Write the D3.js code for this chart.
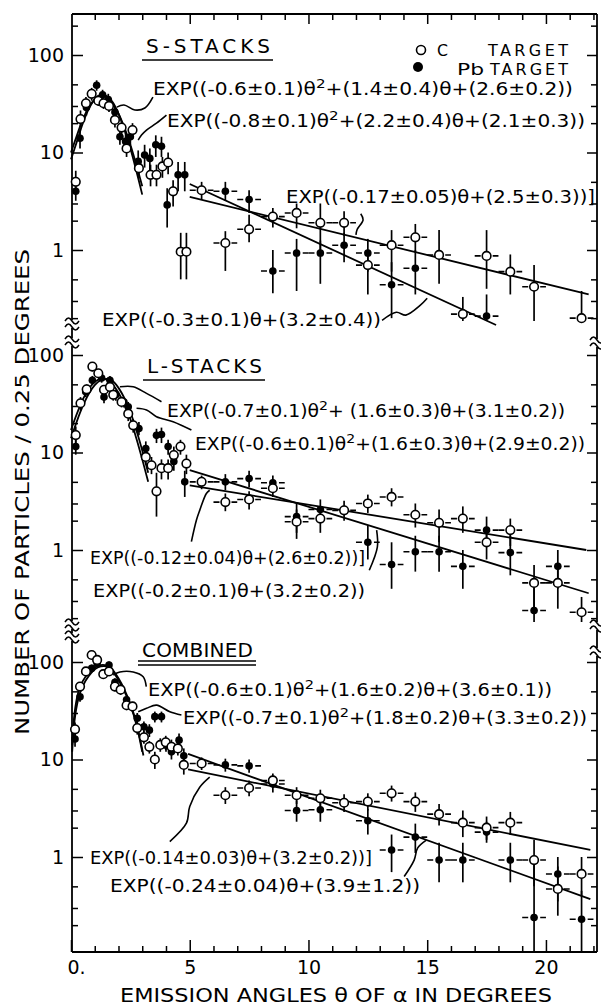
<!DOCTYPE html>
<html>
<head>
<meta charset="utf-8">
<script src="https://cdn.jsdelivr.net/npm/d3@7"></script>
<style>
  body { margin: 0; background: #fff; }
  svg { display: block; font-family: "DejaVu Sans", sans-serif; }
</style>
</head>
<body>
<svg id="chart" width="601" height="1007"></svg>
<script>
// ---- data: [theta, value, errLow, errHigh] ----
// S-stacks
const sLowC = [[0.2,5.0,4.0,6.5],[0.4,22,18,27],[0.63,32,27,37],[0.87,40,34,46],[1.15,34,30,39],[1.37,32,28,36],
  [1.6,30,26,34],[1.85,21.6,18,25],[2.13,18,15,21],[2.34,11,9,13.5],[2.59,17,14,20],[2.86,6.9,5.5,8.5],
  [3.35,5.9,4.5,7.5],[3.6,5.9,4.5,7.5],[3.85,7.2,5.5,9],[4.09,7.9,6,10],[4.3,4.0,2.8,5.2],[4.62,0.96,0.5,1.5],[4.86,0.96,0.5,1.5]];
const sLowPb = [[0.2,4.0,3.2,5.2],[0.38,14,11,17],[0.65,29,24,34],[1.08,49,43,55],[1.33,39,34,44],[1.57,35,30,40],
  [1.85,26,22,30],[2.06,14.5,12,17.5],[2.3,13,11,16],[2.5,14.5,12,17.5],[2.83,8.1,6,10.5],[3.1,9.4,7,12],
  [3.32,8.7,6.5,11],[3.57,12,9,15],[3.81,11.6,9,14.5],[4.05,2.9,1.7,4.3],[4.51,5.9,4,8],[4.79,5.9,4,8]];
const sTailC = [[5.5,4.1,3.3,5.0],[6.5,1.18,0.61,1.56],[7.5,1.63,1.2,2.3],[8.5,2.2,1.7,2.7],[9.5,2.4,1.67,3.0],
  [10.5,1.9,0.95,3.0],[11.5,1.9,1.4,2.5],[12.5,0.7,0.35,1.0],[13.5,1.12,0.6,1.6],[14.5,1.35,0.95,1.85],
  [15.5,0.89,0.45,1.6],[16.5,0.22,0.12,0.33],[17.5,0.87,0.4,1.6],[18.5,0.6,0.35,0.9],[19.5,0.42,0.18,0.7],[21.5,0.2,0.1,0.38]];
const sTailPb = [[6.5,4.0,3.2,5.0],[7.5,3.3,2.4,4.1],[8.5,0.61,0.36,1.0],[9.5,0.93,0.38,1.3],[10.5,0.93,0.45,1.25],
  [11.5,1.12,0.75,1.5],[12.5,0.93,0.6,1.3],[13.5,0.44,0.2,0.75],[14.5,0.65,0.35,1.0],[17.5,0.21,0.1,0.35]];
const sFitC = [[0,10],[0.25,15],[0.5,22],[0.75,29],[1,35],[1.25,38],[1.5,37],[1.75,32],[2,25],[2.25,18],[2.5,12],[2.75,7.5],[3,4.5]];
const sFitPb = [[0,8.5],[0.25,13],[0.5,20],[0.75,28],[1,35],[1.25,39],[1.5,38],[1.75,33],[2,25],[2.25,17],[2.5,11],[2.75,6.5],[3,3.7]];
const sLineC = [[5.0,3.5],[21.8,0.35]];
const sLinePb = [[5.0,4.75],[17.9,0.17]];
const sLeaders = [
  [[3.45,37],[3.11,28.6],[2.69,27.3],[2.23,30.7],[1.93,29.2]],
  [[4.02,24.2],[3.6,20],[3.18,17],[2.97,15.1],[2.83,13.4]],
  [[12.2,2.35],[12.3,2.04],[12.05,1.62],[12.0,1.43]],
  [[13.1,0.19],[13.7,0.23],[14.1,0.215],[14.7,0.27],[15.0,0.32]]
];

// L-stacks
const lLowC = [[0.2,15.1,12,18.5],[0.4,32,27,37],[0.66,44.5,39,50],[0.9,76,68,84],[1.15,65,58,72],[1.39,44,39,49],
  [1.64,47,42,52],[1.78,39,34,44],[2.13,33,29,37],[2.41,25,21,29],[2.62,19,16,22],[3.15,9,7.5,10.5],
  [3.39,7.4,6,9],[3.6,4.0,2.2,6.2],[3.81,6.9,5.3,8.5],[4.09,6.9,5.3,8.5],[4.33,9.4,7.5,11.5],[4.61,11.5,9.5,13.5],[4.86,7.7,6,9.5]];
const lLowPb = [[0.2,11.5,9.5,13.5],[0.62,42,37,47],[0.9,55,49,61],[1.29,58,52,64],[1.39,37,32,42],[1.64,55,49,61],
  [1.89,39,34,44],[2.23,33,29,37],[2.41,29.5,26,33],[2.86,17.6,15,20.5],[3.15,11,9,13],[3.6,15,12.5,17.5],
  [3.81,15.3,12.5,18],[4.09,11.5,9.5,13.5],[4.33,8.1,6.5,10],[4.79,5.0,3.5,6.5]];
const lTailC = [[5.5,5.0,4.2,5.8],[6.5,3.1,2.5,3.8],[7.5,3.3,2.6,4.0],[8.5,4.3,3.5,5.2],[9.5,1.95,1.3,2.6],
  [10.5,2.1,1.5,2.7],[11.5,2.55,2.0,3.2],[12.5,3.0,2.4,3.7],[13.5,3.5,2.8,4.3],[14.5,2.3,1.7,3.0],
  [15.5,1.9,1.2,2.6],[16.5,2.1,1.5,2.8],[17.5,1.2,0.8,1.7],[18.5,1.6,1.1,2.1],[19.5,0.46,0.25,0.7],
  [20.5,0.46,0.25,0.7],[21.5,0.23,0.15,0.33]];
const lTailPb = [[6.5,5.0,4.1,6.0],[7.5,5.4,4.4,6.5],[8.5,4.9,4.0,5.8],[9.5,2.2,1.5,3.0],[10.5,2.6,2.0,3.3],
  [12.5,1.2,0.8,1.8],[13.5,0.71,0.4,1.2],[14.5,0.96,0.6,1.4],[15.5,0.96,0.6,1.4],[16.5,0.68,0.4,1.0],
  [17.5,1.6,1.1,2.2],[18.5,0.94,0.55,1.4],[19.5,0.24,0.1,0.45],[20.5,0.68,0.4,1.0]];
const lFitC = [[0,17],[0.25,25],[0.5,35],[0.75,45],[1,53],[1.25,57],[1.5,56],[1.75,50],[2,41],[2.25,31],[2.5,22],[2.75,14],[3,8.5],[3.25,5]];
const lFitPb = [[0,14],[0.25,21],[0.5,30],[0.75,40],[1,49],[1.25,55],[1.5,57],[1.75,54],[2,46],[2.25,36],[2.5,26],[2.75,17],[3,10.5],[3.25,6.2]];
const lLineC = [[5.0,4.6],[21.7,1.0]];
const lLinePb = [[5.0,6.6],[21.8,0.36]];
const lLeaders = [
  [[3.81,33.2],[3.18,40.4],[2.62,47.3],[2.06,47.3]],
  [[5.07,17],[4.3,20.7],[3.6,23.3],[3.18,27.3],[2.76,28.4]],
  [[5.07,1.22],[5.28,2.02],[5.42,2.55],[5.7,3.8],[5.84,4.1]],
  [[12.56,0.62],[12.9,1.07],[12.87,1.6]]
];

// Combined
const cLowC = [[0.17,20.4,17,24],[0.38,56,50,62],[0.63,80,72,88],[0.87,118,108,128],[1.1,105,96,114],[1.36,75,68,82],
  [1.6,80,72,88],[1.85,56,50,62],[2.09,52,46,58],[2.34,36,32,40],[2.59,35,31,39],[2.79,21,18,24],
  [3.07,16.9,14.5,19.5],[3.3,13.5,11.5,15.5],[3.53,10,8,12],[3.76,14.1,12,16.5],[3.99,15,12.5,17.5],
  [4.23,13.5,11,16],[4.5,13,11,15.5],[4.75,8.8,7,10.5]];
const cLowPb = [[0.17,16.2,13.5,19],[0.38,44,39,49],[0.87,86,78,94],[1.1,97,88,106],[1.6,93,85,101],[1.85,62,56,68],
  [2.34,41,37,45],[2.79,26.5,23,30],[3.07,21.7,19,24.5],[3.3,20,17,23],[3.53,27.5,24,31],[3.81,27.5,24,31],
  [4.0,14,12,16.5],[4.23,12,10,14.5],[4.55,15.8,13,18.5],[4.75,10.9,8.5,13]];
const cTailC = [[5.5,9.1,7.8,10.5],[6.5,4.3,3.5,5.2],[7.5,5.1,4.2,6.1],[8.5,6.1,5.1,7.2],[9.5,4.3,3.5,5.2],
  [10.5,4.0,3.2,4.9],[11.5,3.6,2.9,4.4],[12.5,3.7,3.0,4.5],[13.5,4.5,3.7,5.4],[14.5,3.7,2.9,4.6],
  [15.5,2.75,2.1,3.5],[16.5,2.25,1.6,3.0],[17.5,2.0,1.5,2.6],[18.5,2.25,1.7,2.9],[19.5,0.93,0.5,1.5],
  [20.5,0.47,0.25,0.8],[21.5,0.67,0.4,1.0]];
const cTailPb = [[6.5,8.8,7.5,10.2],[7.5,8.6,7.3,10],[8.5,5.6,4.6,6.7],[9.5,3.0,2.3,3.8],[10.5,3.05,2.3,3.9],
  [12.5,2.35,1.7,3.1],[13.5,1.18,0.7,1.7],[14.5,1.6,1.1,2.2],[15.5,0.93,0.55,1.4],[16.5,0.93,0.55,1.4],
  [17.5,1.8,1.4,2.3],[18.5,0.93,0.55,1.4],[19.5,0.24,0.1,1.0],[20.5,0.67,0.35,1.0],[21.5,0.23,0.1,0.45]];
const cFitC = [[0.05,12],[0.15,25],[0.3,41],[0.5,57],[0.75,72],[1,84],[1.25,90],[1.5,90],[1.75,80],[2,65],[2.25,50],[2.5,36],[2.75,23],[3,12]];
const cFitPb = [[0.05,14],[0.15,30],[0.3,48],[0.5,64],[0.75,78],[1,88],[1.25,93],[1.5,92],[1.75,83],[2,68],[2.25,52],[2.5,37],[2.75,24],[3.05,11]];
const cLineC = [[4.93,7.9],[21.87,1.18]];
const cLinePb = [[4.93,11.4],[21.87,0.37]];
const cLeaders = [
  [[3.17,55.8],[3.04,70.6],[2.62,79],[2.06,79],[1.78,73.5]],
  [[4.65,28.6],[4.16,30.9],[3.6,36.1],[3.18,33.5],[2.83,30.9]],
  [[4.16,1.44],[4.86,2.22],[5.0,3.3],[5.42,5.2],[5.84,6.6]],
  [[14.03,0.63],[14.45,0.93],[14.6,1.24],[14.95,1.48]]
];

// tick values and labels
const xMajor = [0, 5, 10, 15, 20];
const xMinor = d3.range(1, 23);
const yMajor = [0.1, 1, 10, 100];
const yMinor = [0.2, 0.3, 0.5, 2, 3, 5, 20, 30, 50, 200];

const formulas = {
  s: [
    [153, 95, 420, "EXP((-0.6±0.1)θ^2+(1.4±0.4)θ+(2.6±0.2))"],
    [167, 127, 418, "EXP((-0.8±0.1)θ^2+(2.2±0.4)θ+(2.1±0.3))"],
    [286, 203, 309, "EXP((-0.17±0.05)θ+(2.5±0.3))]"],
    [102, 326, 279, "EXP((-0.3±0.1)θ+(3.2±0.4))"]
  ],
  l: [
    [167, 417, 398, "EXP((-0.7±0.1)θ^2+ (1.6±0.3)θ+(3.1±0.2))"],
    [195, 450, 390, "EXP((-0.6±0.1)θ^2+(1.6±0.3)θ+(2.9±0.2))"],
    [90, 564, 275, "EXP((-0.12±0.04)θ+(2.6±0.2))]"],
    [93, 597, 272, "EXP((-0.2±0.1)θ+(3.2±0.2))"]
  ],
  c: [
    [148, 696, 404, "EXP((-0.6±0.1)θ^2+(1.6±0.2)θ+(3.6±0.1))"],
    [183, 724, 404, "EXP((-0.7±0.1)θ^2+(1.8±0.2)θ+(3.3±0.2))"],
    [90, 864, 282, "EXP((-0.14±0.03)θ+(3.2±0.2))]"],
    [110, 892, 310, "EXP((-0.24±0.04)θ+(3.9±1.2))"]
  ]
};

// ---- layout ----
const svg = d3.select('#chart');
const X0 = 72, X1 = 597, Y0 = 14, Y1 = 952;
const DEC = 97.5;
const x = d3.scaleLinear().domain([0, 22.15]).range([71, 597]);

const panels = [
  { key: 's', y100: 55, top: 14, bottom: 321, title: 'S-STACKS', tx: 146, ty: 53, tw: 124, ul: [60],
    lowC: sLowC, lowPb: sLowPb, tailC: sTailC, tailPb: sTailPb, fits: [sFitC, sFitPb], lines: [sLineC, sLinePb], leaders: sLeaders },
  { key: 'l', y100: 355, top: 346, bottom: 622, title: 'L-STACKS', tx: 147, ty: 373, tw: 115, ul: [380],
    lowC: lLowC, lowPb: lLowPb, tailC: lTailC, tailPb: lTailPb, fits: [lFitC, lFitPb], lines: [lLineC, lLinePb], leaders: lLeaders },
  { key: 'c', y100: 662, top: 638, bottom: 952, title: 'COMBINED', tx: 142, ty: 657, tw: 111, ul: [661, 665],
    lowC: cLowC, lowPb: cLowPb, tailC: cTailC, tailPb: cTailPb, fits: [cFitC, cFitPb], lines: [cLineC, cLinePb], leaders: cLeaders }
];

function addFormula(g, x0, y0, w, str, size) {
  const t = g.append('text').attr('x', x0).attr('y', y0).attr('font-size', size)
    .attr('textLength', w).attr('lengthAdjust', 'spacingAndGlyphs');
  str.split('^2').forEach((p, i) => {
    if (i > 0) {
      t.append('tspan').attr('dy', -7).attr('font-size', size * 0.75).text('2');
      t.append('tspan').attr('dy', 7).text(p);
    } else {
      t.append('tspan').text(p);
    }
  });
}

// frame lines
const frame = svg.append('g').attr('stroke', '#000').attr('stroke-width', 1.8);
frame.append('line').attr('x1', X0).attr('y1', Y0).attr('x2', X0).attr('y2', Y1);
frame.append('line').attr('x1', X1).attr('y1', Y0).attr('x2', X1).attr('y2', Y1);
frame.append('line').attr('x1', X0).attr('y1', Y0).attr('x2', X1).attr('y2', Y0);
frame.append('line').attr('x1', X0).attr('y1', Y1).attr('x2', X1).attr('y2', Y1);

// x ticks, top and bottom
function styleAxis(sel) {
  sel.select('.domain').remove();
  sel.selectAll('line').attr('stroke', '#000').attr('stroke-width', 1.5);
  sel.selectAll('text').attr('fill', '#000').attr('font-family', '"DejaVu Sans", sans-serif');
}
svg.append('g').attr('transform', `translate(0,${Y1})`)
  .call(d3.axisBottom(x).tickValues(xMinor.filter(d => d % 5)).tickSize(-6).tickFormat('')).call(styleAxis);
svg.append('g').attr('transform', `translate(0,${Y1})`)
  .call(d3.axisBottom(x).tickValues(xMajor).tickSize(-12).tickPadding(4)
    .tickFormat(d => d === 0 ? '0.' : d))
  .call(styleAxis)
  .call(g => g.selectAll('text').attr('font-size', 19).attr('dy', '0.95em').attr('dx', d => d === 0 ? 5 : 0));
svg.append('g').attr('transform', `translate(0,${Y0})`)
  .call(d3.axisTop(x).tickValues(xMinor.filter(d => d % 5)).tickSize(-6).tickFormat('')).call(styleAxis);
svg.append('g').attr('transform', `translate(0,${Y0})`)
  .call(d3.axisTop(x).tickValues(xMajor.filter(d => d > 0)).tickSize(-10).tickFormat('')).call(styleAxis);

const lineGen = d3.line().curve(d3.curveCatmullRom);

panels.forEach(p => {
  const y = d3.scaleLog().domain([1, 100]).range([p.y100 + 2 * DEC, p.y100]);
  const inRange = v => y(v) >= p.top - 1 && y(v) <= p.bottom + 1;
  const g = svg.append('g');

  // y ticks, left and right
  g.append('g').attr('transform', `translate(${X0},0)`)
    .call(d3.axisLeft(y).tickValues(yMinor.filter(inRange)).tickSize(-6).tickFormat('')).call(styleAxis);
  g.append('g').attr('transform', `translate(${X0},0)`)
    .call(d3.axisLeft(y).tickValues(yMajor.filter(inRange)).tickSize(-11).tickPadding(8)
      .tickFormat(d => d < 1 ? '0.1' : d))
    .call(styleAxis)
    .call(a => a.selectAll('text').attr('font-size', 19));
  g.append('g').attr('transform', `translate(${X1},0)`)
    .call(d3.axisRight(y).tickValues(yMinor.filter(inRange)).tickSize(-6).tickFormat('')).call(styleAxis);
  g.append('g').attr('transform', `translate(${X1},0)`)
    .call(d3.axisRight(y).tickValues(yMajor.filter(inRange)).tickSize(-10).tickFormat('')).call(styleAxis);

  const px = d => [x(d[0]), y(d[1])];

  // fits
  p.fits.forEach(f => g.append('path').attr('d', lineGen(f.map(px)))
    .attr('fill', 'none').attr('stroke', '#000').attr('stroke-width', 1.8));
  p.lines.forEach(f => g.append('path').attr('d', d3.line()(f.map(px)))
    .attr('fill', 'none').attr('stroke', '#000').attr('stroke-width', 1.8));
  p.leaders.forEach(f => g.append('path').attr('d', lineGen(f.map(px)))
    .attr('fill', 'none').attr('stroke', '#000').attr('stroke-width', 1.6));

  // error bars (vertical, clipped to the panel's lower edge)
  const all = [...p.lowC, ...p.lowPb, ...p.tailC, ...p.tailPb];
  g.append('g').selectAll('line').data(all).join('line')
    .attr('x1', d => x(d[0])).attr('x2', d => x(d[0]))
    .attr('y1', d => Math.min(y(d[2]), p.bottom))
    .attr('y2', d => y(d[3]))
    .attr('stroke', '#000').attr('stroke-width', 1.7);
  // bin widths beyond 5 degrees
  g.append('g').selectAll('line').data([...p.tailC, ...p.tailPb]).join('line')
    .attr('x1', d => x(d[0] - 0.5)).attr('x2', d => Math.min(x(d[0] + 0.5), X1))
    .attr('y1', d => y(d[1])).attr('y2', d => y(d[1]))
    .attr('stroke', '#000').attr('stroke-width', 1.6).attr('stroke-dasharray', '6 3');

  // markers
  g.append('g').selectAll('circle').data([...p.lowPb, ...p.tailPb]).join('circle')
    .attr('cx', d => x(d[0])).attr('cy', d => y(d[1])).attr('r', 3.8).attr('fill', '#000');
  g.append('g').selectAll('circle').data([...p.lowC, ...p.tailC]).join('circle')
    .attr('cx', d => x(d[0])).attr('cy', d => y(d[1])).attr('r', 4.3)
    .attr('fill', '#fff').attr('stroke', '#000').attr('stroke-width', 1.6);

  // panel title with underline
  g.append('text').attr('x', p.tx).attr('y', p.ty).attr('font-size', 20)
    .attr('textLength', p.tw).attr('lengthAdjust', 'spacing').text(p.title);
  p.ul.forEach(u => g.append('line').attr('x1', p.tx - 4).attr('x2', p.tx + p.tw + 3)
    .attr('y1', u).attr('y2', u).attr('stroke', '#000').attr('stroke-width', 1.5));

  formulas[p.key].forEach(f => addFormula(g, f[0], f[1], f[2], f[3], 17));
});

// legend
const leg = svg.append('g').attr('font-size', 16);
leg.append('circle').attr('cx', 421).attr('cy', 50).attr('r', 4.5).attr('fill', '#fff').attr('stroke', '#000').attr('stroke-width', 1.6);
leg.append('circle').attr('cx', 418).attr('cy', 67).attr('r', 5).attr('fill', '#000');
leg.append('text').attr('x', 437).attr('y', 56).attr('textLength', 11).attr('lengthAdjust', 'spacingAndGlyphs').text('C');
leg.append('text').attr('x', 488).attr('y', 56).attr('textLength', 80).attr('lengthAdjust', 'spacing').text('TARGET');
leg.append('text').attr('x', 457).attr('y', 75).attr('textLength', 27).attr('lengthAdjust', 'spacingAndGlyphs').text('Pb');
leg.append('text').attr('x', 490).attr('y', 75).attr('textLength', 78).attr('lengthAdjust', 'spacing').text('TARGET');

// axis breaks
function axisBreak(cx, cy) {
  const b = svg.append('g');
  b.append('rect').attr('x', cx - 7).attr('y', cy - 4).attr('width', 14).attr('height', 8).attr('fill', '#fff');
  [-3, 3].forEach(o => b.append('path')
    .attr('d', `M${cx - 7},${cy + o} c2.5,-4 4.5,-4 7,0 s4.5,4 7,0`)
    .attr('fill', 'none').attr('stroke', '#000').attr('stroke-width', 1.5));
}
[[X0, 324], [X0, 342], [X0, 625], [X0, 637], [X1, 343], [X1, 626], [X1, 652]].forEach(b => axisBreak(b[0], b[1]));

// axis titles
svg.append('text').attr('transform', 'translate(29,492) rotate(-90)').attr('text-anchor', 'middle')
  .attr('font-size', 19).attr('textLength', 486).attr('lengthAdjust', 'spacingAndGlyphs')
  .text('NUMBER OF PARTICLES / 0.25 DEGREES');
svg.append('text').attr('x', 120).attr('y', 1002).attr('font-size', 19)
  .attr('textLength', 432).attr('lengthAdjust', 'spacingAndGlyphs')
  .text('EMISSION ANGLES θ OF α IN DEGREES');
</script>
</body>
</html>
